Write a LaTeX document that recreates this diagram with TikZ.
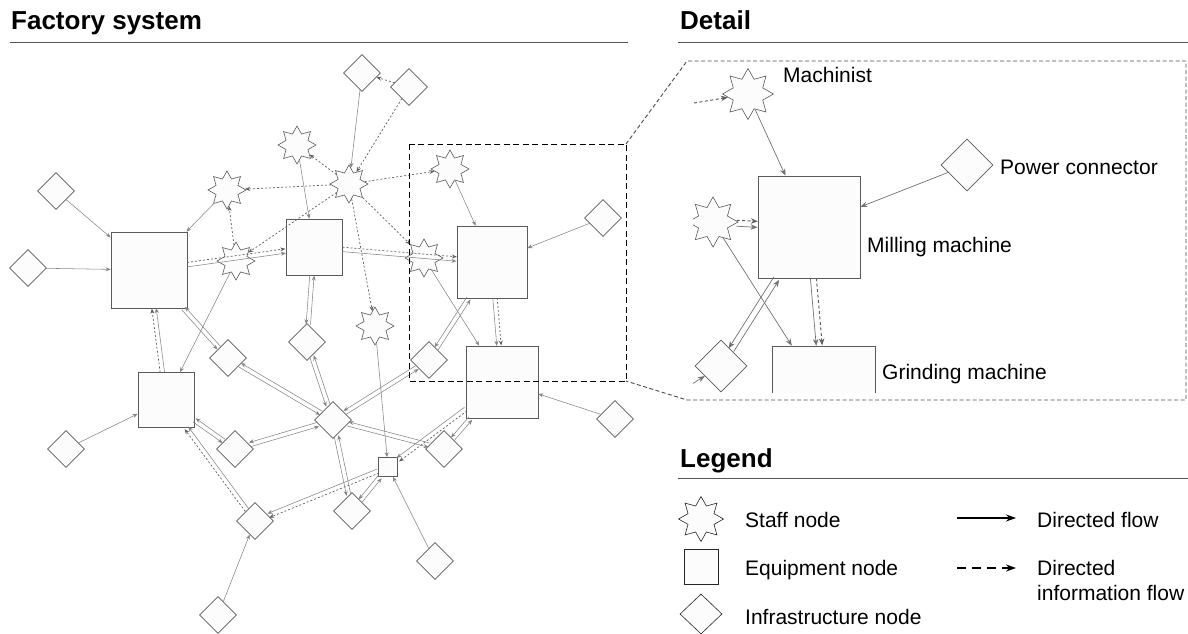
\documentclass[tikz,border=0pt]{standalone}
\usepackage{fontspec}
\setmainfont{Liberation Sans}
\usetikzlibrary{shapes.geometric,arrows.meta}
\definecolor{edgec}{HTML}{858585}
\definecolor{infoc}{HTML}{5E5E5E}
\definecolor{nodeb}{HTML}{5A5A5A}
\definecolor{nodef}{HTML}{FCFCFC}
\definecolor{rulec}{HTML}{555555}
\newcommand\fpsep{2.2pt}
\newcommand\flowpair[2]{%
  \pgfmathanglebetweenpoints{\pgfpointanchor{#1}{center}}{\pgfpointanchor{#2}{center}}%
  \edef\fpang{\pgfmathresult}%
  \draw[flow,transform canvas={shift={(\fpang-90:\fpsep)}}] (#1) -- (#2);
  \draw[flow,transform canvas={shift={(\fpang+90:\fpsep)}}] (#2) -- (#1);
}
\newcommand\flowdual[2]{%
  \pgfmathanglebetweenpoints{\pgfpointanchor{#1}{center}}{\pgfpointanchor{#2}{center}}%
  \edef\fpang{\pgfmathresult}%
  \draw[flow,transform canvas={shift={(\fpang-90:\fpsep)}}] (#1) -- (#2);
  \draw[info,transform canvas={shift={(\fpang+90:\fpsep)}}] (#1) -- (#2);
}
\begin{document}
\begin{tikzpicture}[x=1pt,y=-1pt,
  staff/.style={star, star points=8, star point ratio=1.6, minimum size=38pt, inner sep=0pt, draw=nodeb, fill=nodef, line width=0.6pt},
  equip/.style={rectangle, draw=nodeb, fill=nodef, line width=0.7pt, inner sep=0pt},
  infra/.style={diamond, minimum width=37pt, minimum height=37pt, inner sep=0pt, draw=nodeb, fill=nodef, line width=0.6pt},
  flow/.style={draw=edgec, line width=0.55pt, -{Stealth[length=5pt,width=4pt]}},
  info/.style={draw=infoc, line width=0.7pt, dash pattern=on 2pt off 2pt, -{Stealth[length=5pt,width=4pt]}},
  heading/.style={font=\bfseries\fontsize{26}{30}\selectfont, inner sep=0pt, anchor=base west},
  lbl/.style={font=\fontsize{21}{25}\selectfont, inner sep=0pt, anchor=base west},
  rule/.style={draw=rulec, line width=1pt}]
\useasboundingbox (0,0) rectangle (1188,633);

% headings
\node[heading] (hF) at (11,29) {Factory system};
\node[heading] (hD) at (680,29) {Detail};
\node[heading] (hL) at (680,467) {Legend};
\coordinate (uF1) at (10,42); \coordinate (uF2) at (628,42);
\coordinate (uD1) at (678,42); \coordinate (uD2) at (1188,42);
\coordinate (uL1) at (678,478); \coordinate (uL2) at (1188,478);
\draw[rule] (uF1) -- (uF2);
\draw[rule] (uD1) -- (uD2);
\draw[rule] (uL1) -- (uL2);

% ---------- factory system ----------
\node[staff] (S1) at (297,145) {};
\node[staff] (S2) at (227,190) {};
\node[staff] (S3) at (349,184) {};
\node[staff] (S4) at (450,169) {};
\node[staff] (S5) at (236,261) {};
\node[staff] (S6) at (424,258) {};
\node[staff] (S7) at (375,326) {};

\node[equip, minimum width=76pt, minimum height=76pt] (E1) at (149,270) {};
\node[equip, minimum width=56pt, minimum height=56pt] (E2) at (314,247) {};
\node[equip, minimum width=70pt, minimum height=72pt] (E3) at (492,262) {};
\node[equip, minimum width=72pt, minimum height=72pt] (E4) at (502,382) {};
\node[equip, minimum width=56pt, minimum height=55pt] (E5) at (166,400) {};
\node[equip, minimum width=19pt, minimum height=19pt] (E6) at (388,467) {};

\node[infra] (D1) at (362,73) {};
\node[infra] (D2) at (409,87) {};
\node[infra] (D3) at (56,191) {};
\node[infra] (D4) at (28,268) {};
\node[infra] (D5) at (603,218) {};
\node[infra] (D6) at (228,358) {};
\node[infra] (D7) at (307,342) {};
\node[infra] (D8) at (429,360) {};
\node[infra] (D9) at (333,420) {};
\node[infra] (D10) at (66,449) {};
\node[infra] (D11) at (235,449) {};
\node[infra] (D12) at (444,449) {};
\node[infra] (D13) at (615,419) {};
\node[infra] (D14) at (255,521) {};
\node[infra] (D15) at (352,511) {};
\node[infra] (D16) at (435,561) {};
\node[infra] (D17) at (218,615) {};

% single directed flows
\draw[flow] (D3) -- (E1);
\draw[flow] (D4) -- (E1);
\draw[flow] (S2) -- (E1);
\draw[flow] (S1) -- (E2);
\draw[flow] (D1) -- (S3);
\draw[flow] (S4) -- (E3);
\draw[flow] (D5) -- (E3);
\draw[flow] (S6) -- (E4);
\draw[flow] (S5) -- (E5);
\draw[flow] (S7) -- (E6);
\draw[flow] (D10) -- (E5);
\draw[flow] (D17) -- (D14);
\draw[flow] (D16) -- (E6);
\draw[flow] (D13) -- (E4);

% information flows
\draw[info] (D2) -- (D1);
\draw[info] (D2) -- (S3);
\draw[info] (S3) -- (S1);
\draw[info] (S3) -- (S2);
\draw[info] (S3) -- (S5);
\draw[info] (S3) -- (S4);
\draw[info] (S3) -- (S6);
\draw[info] (S3) -- (S7);
\draw[info] (S5) -- (S2);

% material + information
\flowdual{E1}{E2}
\flowdual{E2}{E3}
\flowdual{E3}{E4}
\flowdual{E5}{E1}
\flowdual{D14}{E5}
\flowdual{E4}{E6}
\flowdual{E6}{D14}

% two-way flows
\flowpair{E2}{D7}
\flowpair{D7}{D9}
\flowpair{E1}{D6}
\flowpair{D6}{D9}
\flowpair{E5}{D11}
\flowpair{D11}{D9}
\flowpair{D9}{D15}
\flowpair{D9}{D12}
\flowpair{D15}{E6}
\flowpair{E3}{D8}
\flowpair{D8}{D9}
\flowpair{E4}{D12}

% detail frame
\coordinate (Rtl) at (409,144); \coordinate (Rbr) at (626,381);
\coordinate (Rtr) at (626,144);
\coordinate (Dtl) at (687,61); \coordinate (Dtr) at (1186,61);
\coordinate (Dbr) at (1186,400); \coordinate (Dbl) at (687,400);
\draw[black, line width=0.9pt, dash pattern=on 6pt off 3.5pt] (Rtl) rectangle (Rbr);
\draw[black!70, line width=0.9pt, dash pattern=on 4pt off 2.5pt] (Rtr) -- (Dtl) -- (Dtr) -- (Dbr) -- (Dbl) -- (Rbr);

% ---------- detail ----------
\begin{scope}
\clip (693,62) rectangle (1185,392);
\renewcommand\fpsep{3pt}
\tikzset{flow/.style={draw=edgec!85!black, line width=0.7pt, -{Stealth[length=7pt,width=5.5pt]}},
  info/.style={draw=infoc, line width=1pt, dash pattern=on 3pt off 2.5pt, -{Stealth[length=7pt,width=5.5pt]}}}
\node[staff, minimum size=51pt] (DM) at (748,94) {};
\node[equip, minimum width=102pt, minimum height=102pt] (DMill) at (809,227) {};
\node[infra, minimum width=52pt, minimum height=52pt] (DP) at (967,165) {};
\node[staff, minimum size=50pt] (DS) at (713,222) {};
\node[infra, minimum width=52pt, minimum height=52pt] (DD) at (721,366) {};
\node[equip, minimum width=103pt, minimum height=99pt] (DG) at (823.5,395.5) {};
\coordinate (DMin) at (694,103);
\coordinate (DDin) at (692,384);
\draw[info] (DMin) -- (DM);
\draw[flow] (DM) -- (DMill);
\draw[flow] (DP) -- (DMill);
\flowdual{DS}{DMill}
\draw[flow] (DS) -- (DG);
\flowdual{DMill}{DG}
\flowpair{DMill}{DD}
\draw[flow] (DDin) -- (DD);
\end{scope}
\node[lbl] (lM) at (783,82) {Machinist};
\node[lbl] (lP) at (1000,174) {Power connector};
\node[lbl] (lMi) at (867,252) {Milling machine};
\node[lbl] (lG) at (882,379) {Grinding machine};

% ---------- legend ----------
\node[staff, minimum size=45pt, draw=black!85] (Lst) at (701,519) {};
\node[equip, minimum width=34pt, minimum height=35pt, draw=black!85] (Leq) at (701,567) {};
\node[infra, minimum width=42pt, minimum height=40pt, draw=black!85] (Lin) at (701,614) {};
\node[lbl] (tSt) at (745,527) {Staff node};
\node[lbl] (tEq) at (745,575) {Equipment node};
\node[lbl] (tIn) at (745,624) {Infrastructure node};
\coordinate (La1) at (957,518); \coordinate (La2) at (1016,518);
\coordinate (Lb1) at (957,568); \coordinate (Lb2) at (1016,568);
\draw[black, line width=1.2pt, -{Stealth[length=10pt,width=7pt]}] (La1) -- (La2);
\draw[black, line width=1.2pt, dash pattern=on 9pt off 6pt, -{Stealth[length=10pt,width=7pt]}] (Lb1) -- (Lb2);
\node[lbl] (tDf) at (1037,527) {Directed flow};
\node[lbl] (tDi) at (1037,575) {Directed};
\node[lbl] (tDi2) at (1037,600) {information flow};
\end{tikzpicture}
\end{document}
